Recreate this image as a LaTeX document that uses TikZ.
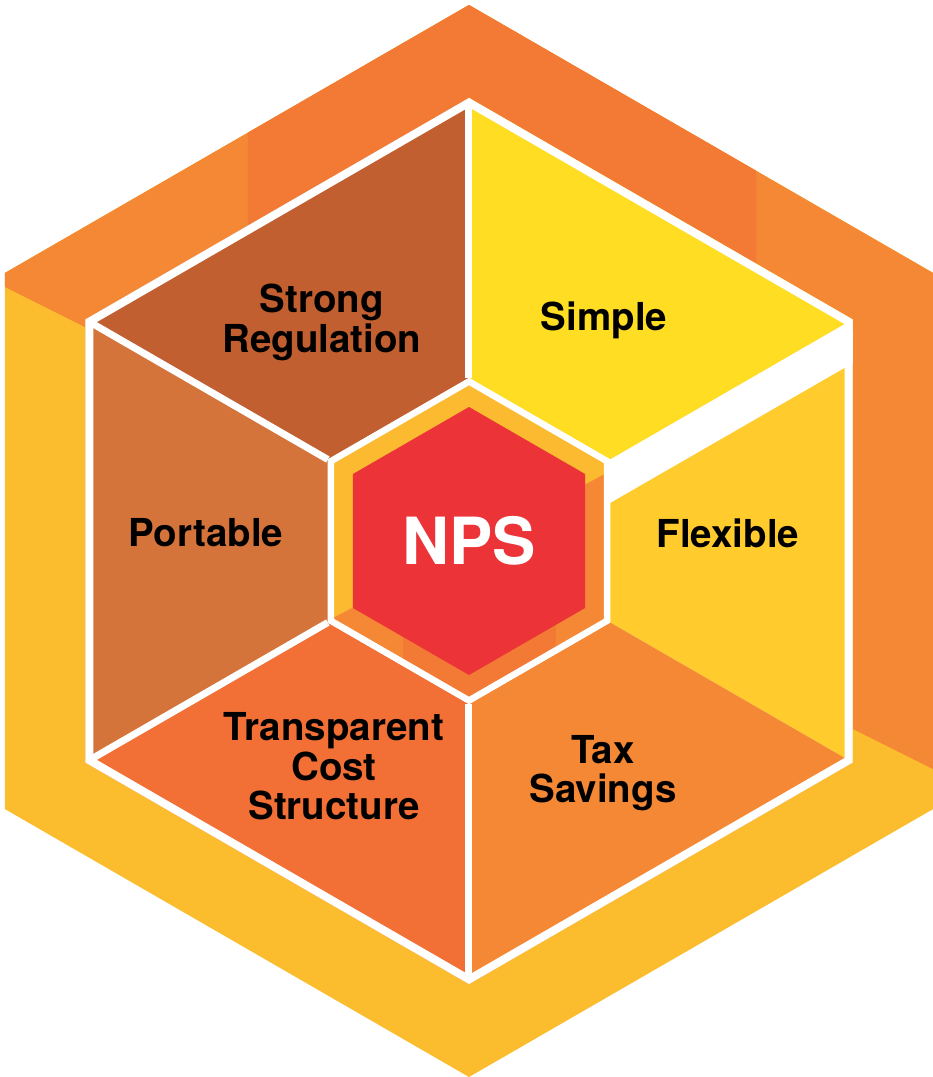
\documentclass[tikz,border=0pt]{standalone}
\usepackage{fontspec}
\setmainfont{TeX Gyre Heros}
\usepackage{tikz}
\definecolor{ringorange}{HTML}{F48835}
\definecolor{ringdark}{HTML}{F37A35}
\definecolor{ringyellow}{HTML}{FBBD2E}
\definecolor{sregcol}{HTML}{C25F30}
\definecolor{simplecol}{HTML}{FFDD22}
\definecolor{flexcol}{HTML}{FFCB2D}
\definecolor{taxcol}{HTML}{F48835}
\definecolor{tcscol}{HTML}{F26F35}
\definecolor{portcol}{HTML}{D4743A}
\definecolor{hubyellow}{HTML}{FBBA30}
\definecolor{hubred}{HTML}{EC3338}
\tikzset{
 lbl/.style={font=\bfseries\fontsize{38.5}{39.5}\selectfont, align=center, text=black, inner sep=0pt},
 gap/.style={white, line width=7pt, line join=miter}
}

\begin{document}
\begin{tikzpicture}[x=1pt,y=1pt]
\useasboundingbox (-469,-536) rectangle (464,541);

% outer frame
\coordinate (o1) at (90:536);
\coordinate (o2) at (150:536);
\coordinate (o3) at (210:536);
\coordinate (o4) at (270:536);
\coordinate (o5) at (330:536);
\coordinate (o6) at (30:536);

% big hexagon and hub
\coordinate (h1) at (90:443);
\coordinate (h2) at (150:443);
\coordinate (h3) at (210:443);
\coordinate (h4) at (270:443);
\coordinate (h5) at (330:443);
\coordinate (h6) at (30:443);
\coordinate (c1) at (90:163);
\coordinate (c2) at (150:163);
\coordinate (c3) at (210:163);
\coordinate (c4) at (270:163);
\coordinate (c5) at (330:163);
\coordinate (c6) at (30:163);

\fill[ringyellow] (o1) -- (o2) -- (o3) -- (o4) -- (o5) -- (o6) -- cycle;
\fill[ringorange] (o1) -- (o6) -- (464,-228) -- (384,-188) -- (0,0) -- (-384,214) -- (-464,254) -- (o2) -- cycle;
\fill[ringdark] (-221,408.4) -- (o1) -- (287,370.3) -- (287,0) -- (-221,0) -- cycle;

\fill[white] (h1) -- (h2) -- (h3) -- (h4) -- (h5) -- (h6) -- cycle;

% sectors
\fill[sregcol] (c1) -- (h1) -- (h2) -- (c2) -- cycle;
\fill[simplecol] (c1) -- (h1) -- (h6) -- (c6) -- cycle;
\fill[flexcol] (c6) -- (h6) -- (h5) -- (c5) -- cycle;
\fill[taxcol] (c5) -- (h5) -- (h4) -- (c4) -- cycle;
\fill[tcscol] (c4) -- (h4) -- (h3) -- (c3) -- cycle;
\fill[portcol] (c3) -- (h3) -- (h2) -- (c2) -- cycle;
\fill[white] (c6) -- (h6) -- (384,178) -- (141,38) -- cycle;

\draw[gap] (c1) -- (90:438);
\draw[gap] (c2) -- (150:438);
\draw[gap] (c3) -- (210:438);
\draw[gap] (c4) -- (270:438);
\draw[gap, line width=8pt] (90:438.4) -- (150:438.4) -- (210:438.4) -- (270:438.4) -- (330:438.4) -- (30:438.4) -- cycle;

% hub
\fill[hubyellow] (90:160) -- (150:160) -- (210:160) -- (270:160) -- (330:160) -- (30:160) -- cycle;
\begin{scope}
\clip (90:160) -- (150:160) -- (210:160) -- (270:160) -- (330:160) -- (30:160) -- cycle;
\clip (-300,-164) -- (300,154) -- (300,-300) -- (-300,-300) -- cycle;
\fill[ringorange] (-300,-300) rectangle (300,300);
\fill[ringdark] (-66,-300) rectangle (87,300);
\end{scope}
\fill[hubred] (90:134) -- (150:134) -- (210:134) -- (270:134) -- (330:134) -- (30:134) -- cycle;
\draw[gap, line width=6.5pt] (90:159.5) -- (150:159.5) -- (210:159.5) -- (270:159.5) -- (330:159.5) -- (30:159.5) -- cycle;

\path (0,0) node[name=nps, lbl, text=white, font=\bfseries\fontsize{65}{65}\selectfont] {NPS};
\path (-147,218.5) node[name=sreg, lbl] {Strong\\Regulation};
\path (135,220.5) node[name=simple, lbl] {Simple};
\path (-263,8) node[name=port, lbl] {Portable};
\path (259,8) node[name=flex, lbl] {Flexible};
\path (-135,-225.5) node[name=tcs, lbl] {Transparent\\Cost\\Structure};
\path (134,-232) node[name=tax, lbl] {Tax\\Savings};
\end{tikzpicture}
\end{document}
